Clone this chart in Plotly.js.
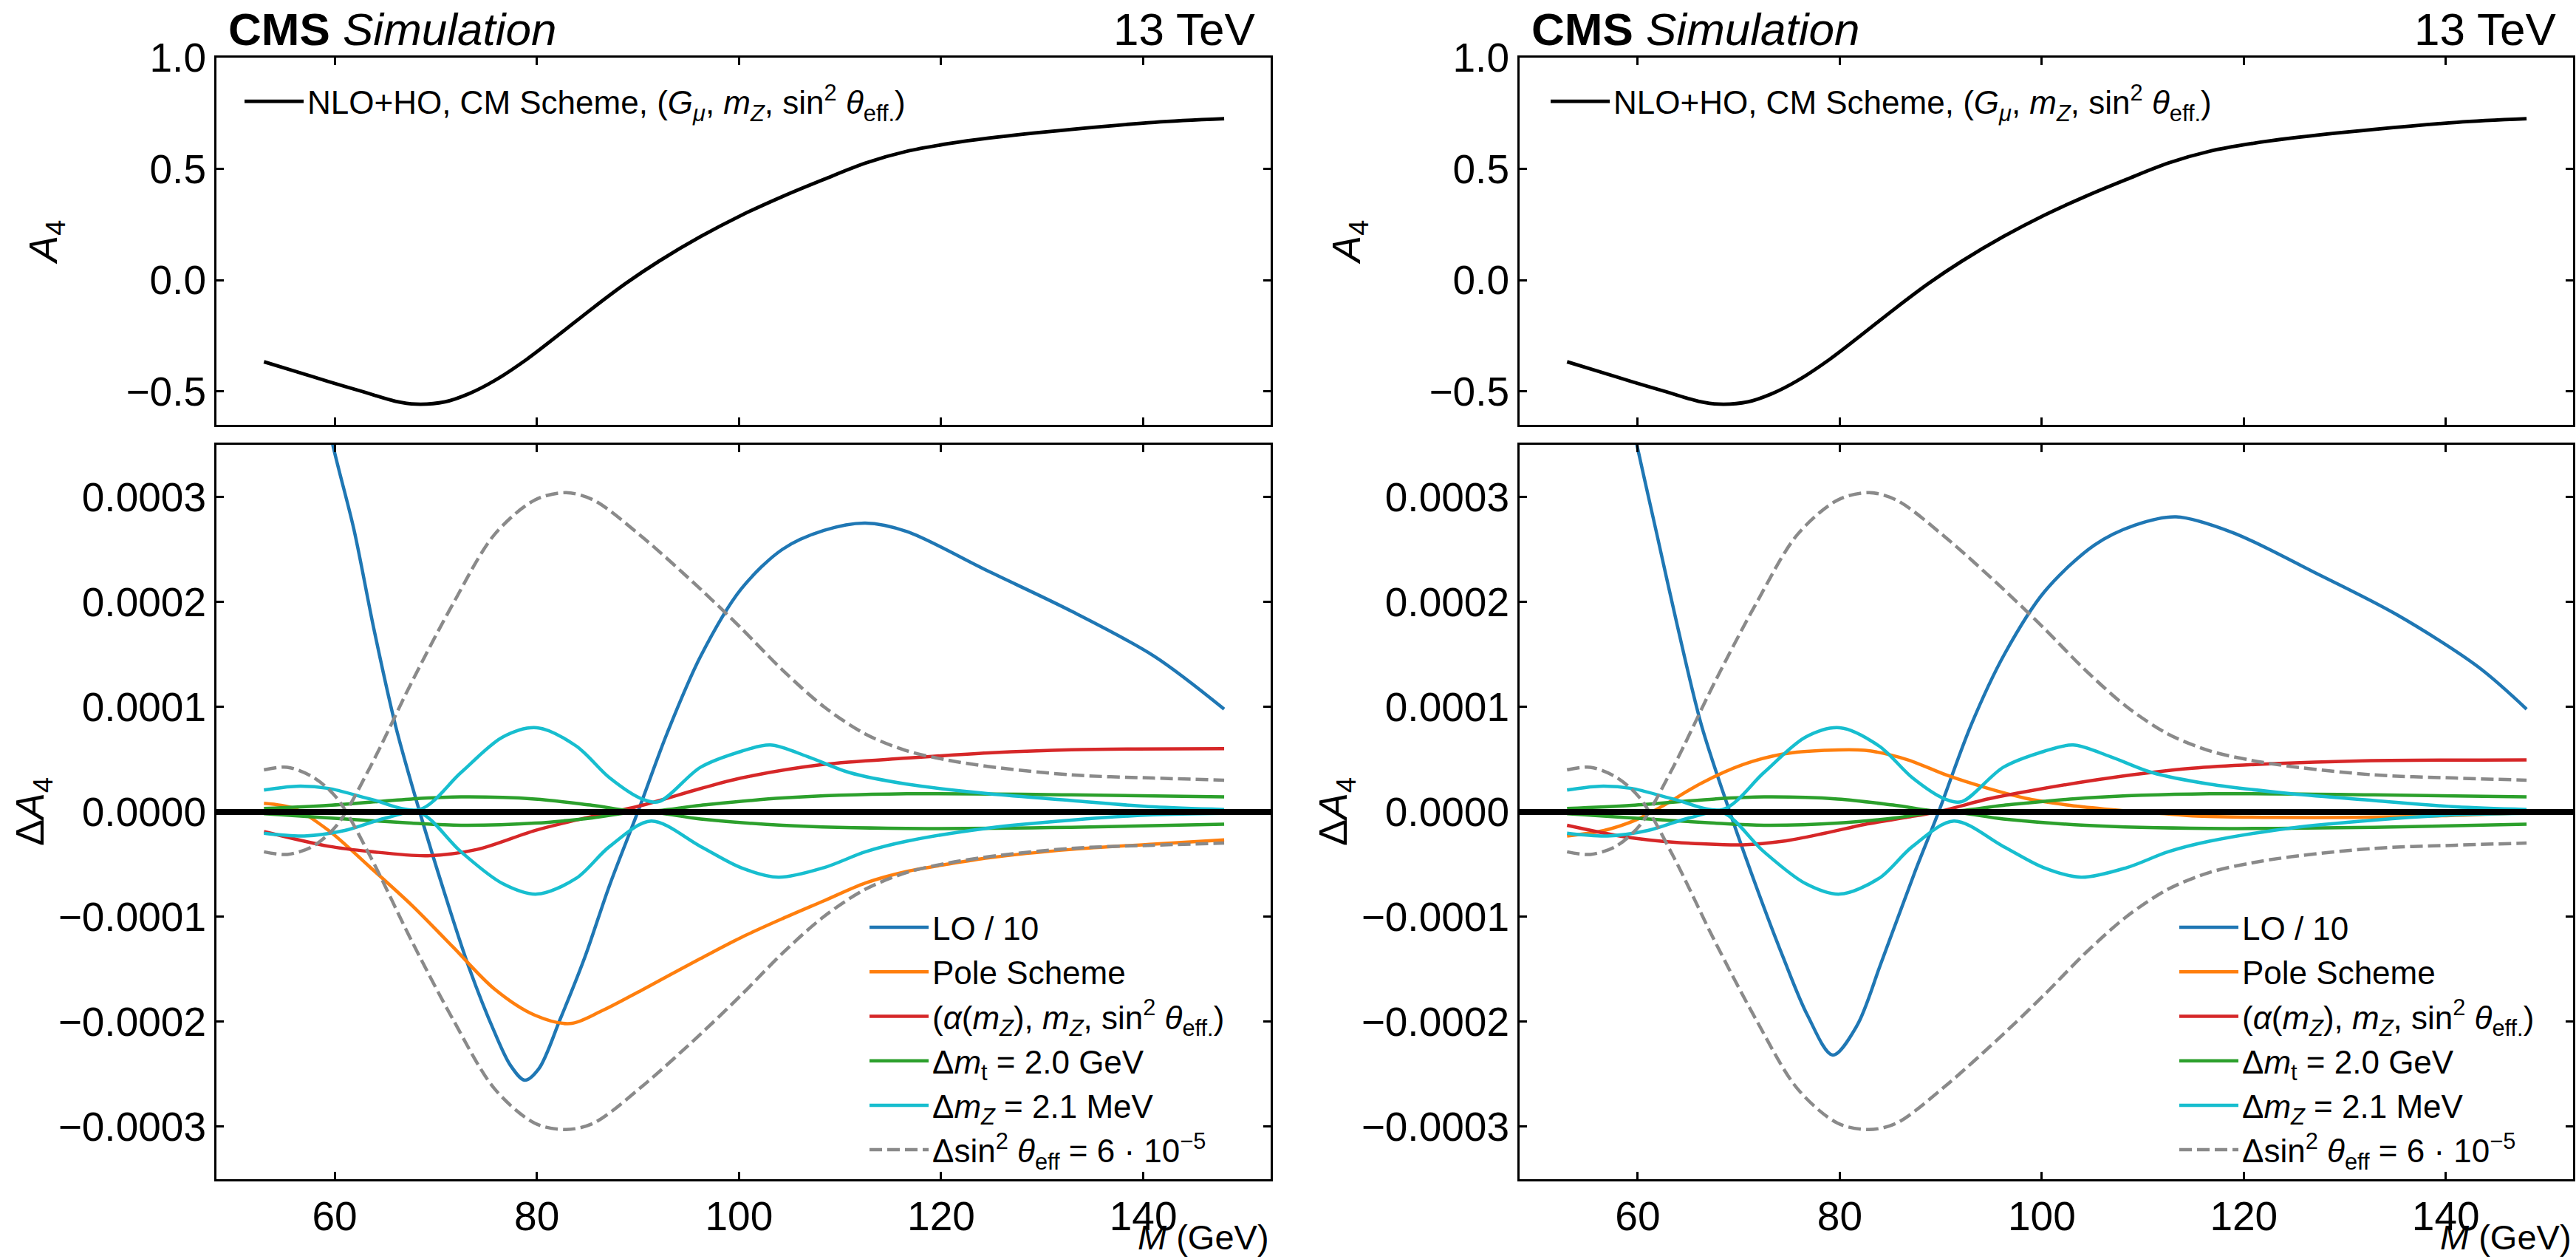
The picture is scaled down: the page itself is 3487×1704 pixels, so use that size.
<!DOCTYPE html>
<html><head><meta charset="utf-8">
<script src="https://cdn.plot.ly/plotly-3.0.1.min.js"></script>
<style>html,body{margin:0;padding:0;background:#fff}#chart{width:3487px;height:1704px}</style>
</head><body><div id="chart"></div>
<script>
// ---------- DATA ----------
const xTicks = [60, 80, 100, 120, 140];
const topYTicks = [-0.5, 0.0, 0.5, 1.0];
const botYTicks = [-0.0003, -0.0002, -0.0001, 0, 0.0001, 0.0002, 0.0003];

// Top panels: A4 (NLO+HO, CM scheme)
const mTop = [53, 56.2, 59.4, 62.7, 66, 68, 70.9, 73.3, 75.8, 79, 82.3, 85.5, 88.8, 92.1, 96.2, 100.2, 104.3, 108.4, 112.5, 116.6, 120.7, 124.7, 132.9, 141.1, 148];
const a4Top = [-0.367, -0.411, -0.456, -0.500, -0.544, -0.557, -0.547, -0.510, -0.452, -0.356, -0.241, -0.127, -0.015, 0.085, 0.195, 0.290, 0.375, 0.452, 0.525, 0.578, 0.612, 0.637, 0.676, 0.708, 0.724];

// Bottom-left: LO / 10
const mLoL = [57, 59.8, 61.9, 63.9, 66.0, 68.4, 70.9, 73.3, 75.8, 77.4, 78.8, 80.2, 82.3, 84.7, 87.2, 90.0, 92.9, 96.2, 100.2, 104.3, 108.4, 112.5, 116.6, 124.7, 132.9, 141.1, 148];
const loL = [0.00048, 0.00035, 0.000269, 0.000173, 0.0000826, 0, -0.0000786, -0.000149, -0.00021, -0.000242, -0.000256, -0.000245, -0.000198, -0.00014, -0.00007, 0.0, 0.000075, 0.000148, 0.000212, 0.000250, 0.000268, 0.000275, 0.000267, 0.000229, 0.000191, 0.000148, 0.0000977];
// Bottom-right: LO / 10
const mLoR = [57, 59.9, 61.9, 63.9, 66.3, 69.1, 72.0, 74.4, 76.8, 79.3, 81.7, 84.1, 87.4, 89.8, 93.0, 96.3, 100.3, 105.2, 109.2, 113.3, 118.9, 127.0, 135.1, 143.2, 148];
const loR = [0.00048, 0.00035, 0.000264, 0.000178, 0.0000825, 0, -0.0000785, -0.000139, -0.000194, -0.000232, -0.000204, -0.000144, -0.0000584, 0, 0.0000825, 0.000150, 0.000210, 0.000254, 0.000273, 0.000281, 0.000266, 0.000228, 0.000188, 0.000138, 0.0000977];

// Pole scheme
const mPoleL = [53, 56, 59.4, 63.5, 67.6, 71.7, 75.8, 79.8, 83.3, 86.4, 90.4, 96.2, 100.2, 104.3, 108.4, 112.5, 116.6, 120.7, 124.7, 132.9, 141, 148];
const poleL = [0.000008, 0.000003, -0.000018, -0.000053, -0.000089, -0.000129, -0.000169, -0.000194, -0.000202, -0.00019, -0.00017, -0.00014, -0.00012, -0.000102, -0.000085, -0.000068, -0.000057, -0.00005, -0.000044, -0.000036, -0.000031, -0.000027];
const mPoleR = [53, 56.6, 59.8, 62.3, 66.3, 70.4, 74.4, 78.5, 82.5, 86.6, 90.6, 94.7, 98.7, 102.8, 106.8, 110.9, 114.9, 123, 131.1, 139.2, 148];
const poleR = [-0.0000232, -0.0000181, -0.000008, 0.0000045, 0.0000272, 0.0000448, 0.0000549, 0.0000584, 0.0000584, 0.0000498, 0.0000347, 0.0000221, 0.0000121, 0.000006, 0.000002, -0.000001, -0.000004, -0.0000055, -0.0000055, -0.000004, -0.000001];

// (alpha(mZ), mZ, sin2theta_eff) scheme
const mAlphaL = [53, 59.4, 63.5, 69.2, 74.1, 79.8, 83.9, 90.4, 96.2, 100.2, 108.4, 116.6, 124.7, 132.9, 148];
const alphaL = [-0.000019, -0.000033, -0.000038, -0.000042, -0.000036, -0.000018, -0.000008, 0.000006, 0.000022, 0.000032, 0.000045, 0.000051, 0.000056, 0.000059, 0.00006];
const mAlphaR = [53, 58.2, 62.3, 66.3, 70.4, 74.4, 78.5, 82.5, 86.6, 89.8, 94.7, 98.7, 106.8, 114.9, 123, 131.1, 148];
const alphaR = [-0.000013, -0.0000232, -0.0000282, -0.0000307, -0.0000317, -0.0000282, -0.0000206, -0.0000121, -0.0000055, 0, 0.0000121, 0.0000196, 0.0000322, 0.0000413, 0.0000458, 0.0000483, 0.0000493];

// Delta m_t = 2.0 GeV (up / down)
const mMt = [53, 59.4, 67.6, 72.5, 79.8, 85.5, 90.4, 96.2, 104.3, 116.6, 132.9, 148];
const mtUp = [0.000003, 0.000006, 0.000012, 0.000014, 0.000012, 0.000006, 0, 0.000006, 0.000013, 0.000017, 0.000016, 0.000014];
const mtDown = [-0.000002, -0.000006, -0.000011, -0.000013, -0.000011, -0.000006, 0, -0.000007, -0.000013, -0.000016, -0.000015, -0.000012];

// Delta m_Z = 2.1 MeV (up / down)
const mMzUp = [53, 56.2, 59.4, 63.5, 68.4, 72.5, 76.6, 80, 83.9, 87.2, 90.4, 92.1, 96.2, 100.2, 103.1, 106.8, 110.9, 116.6, 124.7, 132.9, 141, 148];
const mzUp = [0.0000206, 0.0000242, 0.0000221, 0.0000121, 0.000002, 0.0000373, 0.000071, 0.00008, 0.0000625, 0.0000322, 0.0000121, 0.0000096, 0.0000423, 0.0000574, 0.0000635, 0.0000524, 0.0000373, 0.0000262, 0.0000171, 0.0000106, 0.0000045, 0.000002];
const mMzDown = [53, 57, 61, 65.1, 68.4, 72.5, 76.6, 80, 83.9, 87.2, 91.3, 96.2, 100.2, 103.9, 108.4, 112.5, 116.6, 124.7, 132.9, 141, 148];
const mzDown = [-0.0000206, -0.0000232, -0.000018, -0.000006, -0.000001, -0.0000383, -0.0000685, -0.0000786, -0.0000635, -0.0000332, -0.000009, -0.0000332, -0.0000534, -0.0000625, -0.0000534, -0.0000383, -0.0000282, -0.0000156, -0.0000081, -0.000003, -0.0000015];

// Delta sin2theta_eff = 6e-5 (up / down)
const mSin = [53, 55.3, 57.8, 60.2, 63.5, 67.6, 71.7, 75.8, 79.8, 82.9, 85.6, 90.4, 96.2, 100.2, 104.3, 108.4, 112.5, 116.6, 120.7, 124.7, 132.9, 141, 148];
const sinUp = [-0.0000383, -0.0000408, -0.0000332, -0.0000131, 0.0000423, 0.000123, 0.000198, 0.000264, 0.000297, 0.000304, 0.000297, 0.000262, 0.000212, 0.000175, 0.000135, 0.0001, 0.000074, 0.000058, 0.000049, 0.000043, 0.000035, 0.000032, 0.00003];
const sinDown = [0.0000398, 0.0000423, 0.0000332, 0.0000131, -0.0000423, -0.000123, -0.000198, -0.000264, -0.000297, -0.000303, -0.000297, -0.000262, -0.000212, -0.000175, -0.000135, -0.0001, -0.000074, -0.000058, -0.000049, -0.000043, -0.000035, -0.000032, -0.00003];

const names = {
  top: 'NLO+HO, CM Scheme, (<i>G</i><sub><i>μ</i></sub>, <i>m</i><sub><i>Z</i></sub>, sin<sup>2</sup> <i>θ</i><sub>eff.</sub>)',
  lo: 'LO / 10',
  pole: 'Pole Scheme',
  alpha: '(<i>α</i>(<i>m</i><sub><i>Z</i></sub>), <i>m</i><sub><i>Z</i></sub>, sin<sup>2</sup> <i>θ</i><sub>eff.</sub>)',
  mt: 'Δ<i>m</i><sub>t</sub> = 2.0 GeV',
  mz: 'Δ<i>m</i><sub><i>Z</i></sub> = 2.1 MeV',
  sin: 'Δsin<sup>2</sup> <i>θ</i><sub>eff</sub> = 6 · 10<sup>−5</sup>'
};

// ---------- STYLE / LAYOUT ----------
const W = 3487, H = 1704;
const FONT = 'Liberation Sans, Arial, Helvetica, sans-serif';
const C = {lo:'#1f77b4', pole:'#ff7f0e', alpha:'#d62728', mt:'#2ca02c', mz:'#17becf', sin:'#8a8a8a'};
const LW = 4.5;

function tr(x, y, color, name, xa, ya, leg, show, group, dash) {
  return {type:'scatter', mode:'lines', x:x, y:y, name:name, xaxis:xa, yaxis:ya,
    legend:leg, showlegend:show, legendgroup:group,
    line:{color:color, width:LW, shape:'spline', smoothing:0.9, dash:dash||'solid'},
    hoverinfo:'skip'};
}
const DASH = '17px,7px';
function bottomTraces(xa, ya, leg, mLo, lo, mPole, pole, mAl, al, sfx) {
  return [
    tr(mLo, lo, C.lo, names.lo, xa, ya, leg, true, 'lo'+sfx),
    tr(mPole, pole, C.pole, names.pole, xa, ya, leg, true, 'pole'+sfx),
    tr(mAl, al, C.alpha, names.alpha, xa, ya, leg, true, 'al'+sfx),
    tr(mMt, mtUp, C.mt, names.mt, xa, ya, leg, true, 'mt'+sfx),
    tr(mMt, mtDown, C.mt, names.mt, xa, ya, leg, false, 'mt'+sfx),
    tr(mMzUp, mzUp, C.mz, names.mz, xa, ya, leg, true, 'mz'+sfx),
    tr(mMzDown, mzDown, C.mz, names.mz, xa, ya, leg, false, 'mz'+sfx),
    tr(mSin, sinUp, C.sin, names.sin, xa, ya, leg, true, 'sin'+sfx, DASH),
    tr(mSin, sinDown, C.sin, names.sin, xa, ya, leg, false, 'sin'+sfx, DASH)
  ];
}
const topLine = {color:'#000', width:4.8, shape:'spline', smoothing:0.9};
const data = [
  Object.assign(tr(mTop, a4Top, '#000', names.top, 'x', 'y', 'legend', true, 'top'), {line:topLine}),
  Object.assign(tr(mTop, a4Top, '#000', names.top, 'x3', 'y3', 'legend2', true, 'top'), {line:topLine}),
  ...bottomTraces('x2', 'y2', 'legend3', mLoL, loL, mPoleL, poleL, mAlphaL, alphaL, 'L'),
  ...bottomTraces('x4', 'y4', 'legend4', mLoR, loR, mPoleR, poleR, mAlphaR, alphaR, 'R')
];

const px = v => v / W;
const py = v => 1 - v / H;
const domL = [px(293), px(1720)], domR = [px(2057), px(3483)];
const domT = [py(575), py(77.5)], domB = [py(1595.5), py(601.5)];
const tickFont = {family:FONT, size:55, color:'#000'};

function xax(dom, anchor, labels) {
  return {domain:dom, anchor:anchor, range:[48.3, 152.6], tickvals:xTicks, ticktext:xTicks.map(String),
    showticklabels:labels, ticks:'inside', ticklen:10, tickwidth:3, tickcolor:'#000',
    showline:true, linecolor:'#000', linewidth:3, mirror:'ticks', showgrid:false, zeroline:false,
    tickfont:tickFont, layer:'above traces'};
}
function yaxTop(anchor, dom) {
  return {domain:dom, anchor:anchor, range:[-0.65, 1.0], tickvals:topYTicks, tickformat:'.1f',
    ticks:'inside', ticklen:10, tickwidth:3, tickcolor:'#000',
    showline:true, linecolor:'#000', linewidth:3, mirror:'ticks', showgrid:false, zeroline:false,
    tickfont:tickFont, layer:'above traces',
    title:{text:'<i>A</i><sub>4</sub>', font:{family:FONT, size:54, color:'#000'}, standoff:76}};
}
function yaxBot(anchor, dom) {
  return {domain:dom, anchor:anchor, range:[-0.00035, 0.00035], tickvals:botYTicks, tickformat:'.4f',
    ticks:'inside', ticklen:10, tickwidth:3, tickcolor:'#000',
    showline:true, linecolor:'#000', linewidth:3, mirror:'ticks', showgrid:false,
    zeroline:true, zerolinecolor:'#000', zerolinewidth:8, zerolinelayer:'above traces',
    tickfont:tickFont, layer:'above traces',
    title:{text:'Δ<i>A</i><sub>4</sub>', font:{family:FONT, size:54, color:'#000'}, standoff:2}};
}
function leg(x, y) {
  return {x:x, y:y, xanchor:'left', yanchor:'top', bgcolor:'rgba(0,0,0,0)', borderwidth:0,
    font:{family:FONT, size:44, color:'#000'}, traceorder:'grouped', tracegroupgap:0, itemwidth:80};
}
const capFont = {family:FONT, size:62, color:'#000'};
const mFont = {family:FONT, size:47, color:'#000'};
const layout = {
  width:W, height:H, autosize:false, margin:{l:0, r:0, t:0, b:0},
  paper_bgcolor:'#fff', plot_bgcolor:'#fff', showlegend:true,
  xaxis:xax(domL, 'y', false), yaxis:yaxTop('x', domT),
  xaxis2:xax(domL, 'y2', true), yaxis2:yaxBot('x2', domB),
  xaxis3:xax(domR, 'y3', false), yaxis3:yaxTop('x3', domT),
  xaxis4:xax(domR, 'y4', true), yaxis4:yaxBot('x4', domB),
  legend:leg(px(326), py(102)),
  legend2:leg(px(2094), py(102)),
  legend3:leg(px(1172), py(1220)),
  legend4:leg(px(2945), py(1220)),
  annotations:[
    {xref:'x domain', yref:'y domain', x:0, y:1, xanchor:'left', yanchor:'bottom', xshift:14, yshift:1, showarrow:false,
     text:'<b>CMS</b> <i>Simulation</i>', font:capFont},
    {xref:'x domain', yref:'y domain', x:1, y:1, xanchor:'right', yanchor:'bottom', xshift:-18, yshift:1, showarrow:false,
     text:'13 TeV', font:capFont},
    {xref:'x3 domain', yref:'y3 domain', x:0, y:1, xanchor:'left', yanchor:'bottom', xshift:14, yshift:1, showarrow:false,
     text:'<b>CMS</b> <i>Simulation</i>', font:capFont},
    {xref:'x3 domain', yref:'y3 domain', x:1, y:1, xanchor:'right', yanchor:'bottom', xshift:-20, yshift:1, showarrow:false,
     text:'13 TeV', font:capFont},
    {xref:'x2 domain', yref:'y2 domain', x:1, y:0, xanchor:'right', yanchor:'bottom', yshift:-107, showarrow:false,
     text:'<i>M</i> (GeV)', font:mFont},
    {xref:'x4 domain', yref:'y4 domain', x:1, y:0, xanchor:'right', yanchor:'bottom', yshift:-107, showarrow:false,
     text:'<i>M</i> (GeV)', font:mFont}
  ]
};
Plotly.newPlot('chart', data, layout, {staticPlot:true, displayModeBar:false});
</script></body></html>
